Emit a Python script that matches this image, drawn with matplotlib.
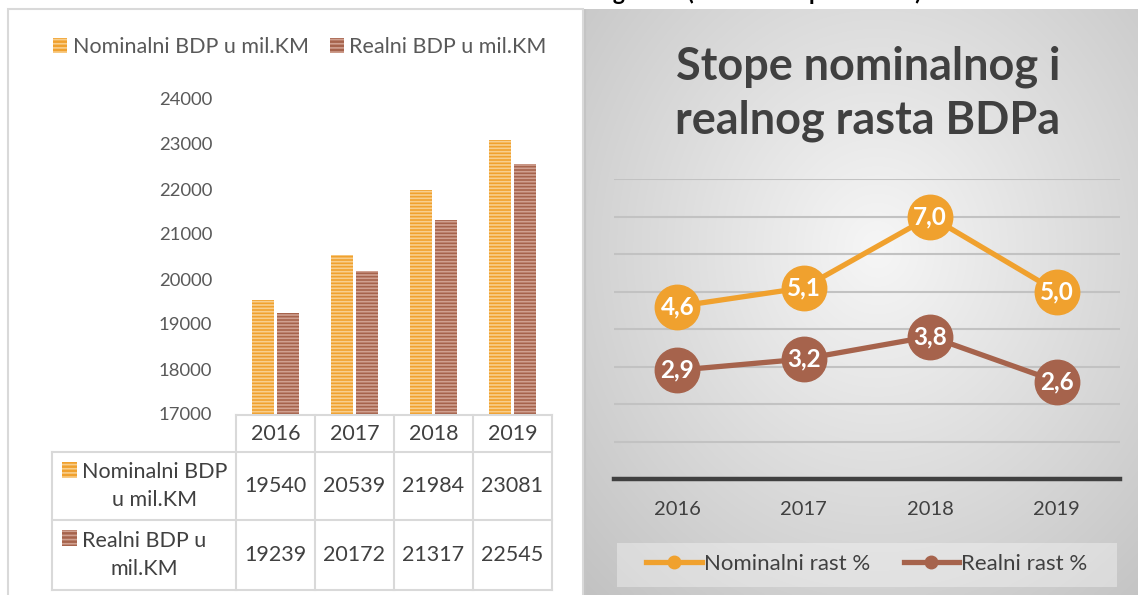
import numpy as np
import matplotlib
matplotlib.use("Agg")
import matplotlib.pyplot as plt
from matplotlib.patches import Patch, Rectangle
from matplotlib.lines import Line2D
from matplotlib import transforms

plt.rcParams['font.family'] = ['Lato', 'DejaVu Sans']
plt.rcParams['hatch.linewidth'] = 1.2

# data
years = ['2016', '2017', '2018', '2019']
nominalni_bdp = [19540, 20539, 21984, 23081]
realni_bdp = [19239, 20172, 21317, 22545]
nominalni_rast = [4.6, 5.1, 7.0, 5.0]
realni_rast = [2.9, 3.2, 3.8, 2.6]
label_nom_bdp = 'Nominalni BDP u mil.KM'
label_real_bdp = 'Realni BDP u mil.KM'
label_nom_rast = 'Nominalni rast %'
label_real_rast = 'Realni rast %'

ORANGE = '#F0A12E'
ORANGE_L = '#F8CE8C'
BROWN = '#A6634C'
BROWN_L = '#D0A090'
TXT = '#595959'
DARK = '#404040'
GRID = '#D9D9D9'

W, H = 1138, 595
fig = plt.figure(figsize=(W / 100, H / 100), dpi=100)


def px(l, t, r, b):
    return [l / W, 1 - b / H, (r - l) / W, (b - t) / H]


# cut-off caption at the very top (only descenders visible, as in the source)
fig.text(921 / W, 1.0, 'Nominalni i realni BDP 2016-2019 godina (u mil. KM i postocima)',
         ha='right', va='baseline', fontsize=16.6, fontweight='bold', color='black')

# left panel frame
fig.patches.append(Rectangle((8 / W, -0.05), (583 - 8) / W, 1 - 9 / H + 0.05,
                             transform=fig.transFigure, facecolor='white',
                             edgecolor=GRID, lw=1.5, zorder=-2))

# ---------- bar chart ----------
ax1 = fig.add_axes(px(236, 99, 552, 414))
x = np.arange(len(years))
bw = 0.27
ax1.bar(x - bw / 2 - 0.022, nominalni_bdp, bw, color=ORANGE, edgecolor=ORANGE_L,
        hatch='-----', lw=0)
ax1.bar(x + bw / 2 + 0.022, realni_bdp, bw, color=BROWN, edgecolor=BROWN_L,
        hatch='-----', lw=0)
ax1.set_ylim(17000, 24000)
ax1.set_xlim(-0.5, len(years) - 0.5)
ax1.set_yticks(range(17000, 24001, 1000))
ax1.tick_params(axis='y', length=0, pad=17, labelsize=13.3, labelcolor=TXT)
ax1.set_xticks([])
for s in ax1.spines.values():
    s.set_visible(False)
ax1.patch.set_alpha(0)

fig.legend(handles=[Patch(facecolor=ORANGE, edgecolor=ORANGE_L, hatch='----', lw=0),
                    Patch(facecolor=BROWN, edgecolor=BROWN_L, hatch='----', lw=0)],
           labels=[label_nom_bdp, label_real_bdp], ncol=2, frameon=False,
           loc='center', bbox_to_anchor=(300 / W, 1 - 47 / H),
           fontsize=15.5, labelcolor=TXT, handlelength=0.65, handleheight=0.65,
           handletextpad=0.25, columnspacing=1.0)

# ---------- data table ----------
tl, tr = 52, 552
catw = (552 - 236) / len(years)
ax_t = fig.add_axes(px(tl, 415, tr, 590))
x_left = len(years) - 0.5 - (tr - tl) / catw
ax_t.set_xlim(x_left, len(years) - 0.5)
row_edges = [0, 37, 105, 175]
ax_t.set_ylim(row_edges[-1], 0)
ax_t.axis('off')
lc = dict(color=GRID, lw=1.5, clip_on=False)
ax_t.plot([-0.5, len(years) - 0.5], [0, 0], **lc)
for yv in row_edges[1:]:
    ax_t.plot([x_left, len(years) - 0.5], [yv, yv], **lc)
ax_t.plot([x_left, x_left], [row_edges[1], row_edges[-1]], **lc)
for xv in np.arange(-0.5, len(years), 1.0):
    ax_t.plot([xv, xv], [0, row_edges[-1]], **lc)

for i, yr in enumerate(years):
    ax_t.text(i, (row_edges[0] + row_edges[1]) / 2, yr, ha='center', va='center',
              fontsize=15.5, color=DARK)
    ax_t.text(i, (row_edges[1] + row_edges[2]) / 2, str(nominalni_bdp[i]), ha='center',
              va='center', fontsize=15.5, color=DARK)
    ax_t.text(i, (row_edges[2] + row_edges[3]) / 2, str(realni_bdp[i]), ha='center',
              va='center', fontsize=15.5, color=DARK)

blend = transforms.blended_transform_factory(ax_t.transAxes, ax_t.transData)
row_labels = ['Nominalni BDP\nu mil.KM', 'Realni BDP u\nmil.KM']
row_cols = [(ORANGE, ORANGE_L), (BROWN, BROWN_L)]
for k, (lab, (fc, hc)) in enumerate(zip(row_labels, row_cols)):
    top = row_edges[k + 1]
    bot = row_edges[k + 2]
    ax_t.add_patch(Rectangle((10 / 500, top + 10), 15 / 500, 16, transform=blend,
                             facecolor=fc, edgecolor=hc, hatch='----', lw=0))
    ax_t.text(30 / 500, (top + bot) / 2, lab, transform=blend, ha='left', va='center',
              multialignment='center', fontsize=15.5, color=DARK, linespacing=1.45)

# ---------- right panel background ----------
ax_bg = fig.add_axes(px(584, 9, 1138, 595))
gh, gw = 300, 280
yy, xx = np.mgrid[0:1:gh * 1j, 0:1:gw * 1j]
r = np.sqrt(((xx - 0.53) / 0.75) ** 2 + ((yy - 0.41) / 0.8) ** 2)
v = np.clip(0.965 - 0.2 * r, 0, 1)
ax_bg.imshow(np.dstack([v, v, v]), aspect='auto', extent=(0, 1, 1, 0), interpolation='bilinear')
ax_bg.plot([0, 0], [0, 1], color='#C4C4C4', lw=3)
ax_bg.set_xlim(0, 1)
ax_bg.set_ylim(1, 0)
ax_bg.axis('off')

fig.text(868 / W, 1 - 79 / H, 'Stope nominalnog i', ha='center', va='baseline',
         fontsize=32.4, fontweight='bold', color=DARK)
fig.text(868 / W, 1 - 134 / H, 'realnog rasta BDPa', ha='center', va='baseline',
         fontsize=32.4, fontweight='bold', color=DARK)

# ---------- line chart ----------
ax2 = fig.add_axes(px(614, 179, 1120, 479))
ax2.patch.set_alpha(0)
ax2.set_xlim(-0.5, len(years) - 0.5)
ax2.set_ylim(0, 8)
for g in range(1, 9):
    ax2.axhline(g, color='#C2C2C2', lw=1.5, zorder=1)
ax2.axhline(0, color=DARK, lw=3.2, zorder=1, clip_on=False)
for vals, col in [(nominalni_rast, ORANGE), (realni_rast, BROWN)]:
    ax2.plot(x, vals, color=col, lw=3.8, marker='o', markersize=32, zorder=3,
             clip_on=False)
    for xi, val in zip(x, vals):
        ax2.text(xi, val, f'{val:.1f}'.replace('.', ','), ha='center', va='center',
                 color='white', fontsize=17.5, fontweight='bold', zorder=4)
ax2.set_xticks(x)
ax2.set_xticklabels(years)
ax2.set_yticks([])
ax2.tick_params(axis='x', length=0, pad=16, labelsize=14.5, labelcolor=DARK)
for s in ax2.spines.values():
    s.set_visible(False)

fig.patches.append(Rectangle((617 / W, 1 - 587 / H), 500 / W, 44 / H, transform=fig.transFigure,
                             facecolor='white', alpha=0.35, edgecolor='none', zorder=1))
fig.legend(handles=[Line2D([], [], color=ORANGE, lw=3.8, marker='o', markersize=9),
                    Line2D([], [], color=BROWN, lw=3.8, marker='o', markersize=9)],
           labels=[label_nom_rast, label_real_rast], ncol=2, frameon=False, loc='center',
           bbox_to_anchor=(867 / W, 1 - 564 / H), fontsize=16, labelcolor=DARK,
           handlelength=2.5, handletextpad=0.1, columnspacing=1.5)

fig.savefig('out.png', dpi=100)
